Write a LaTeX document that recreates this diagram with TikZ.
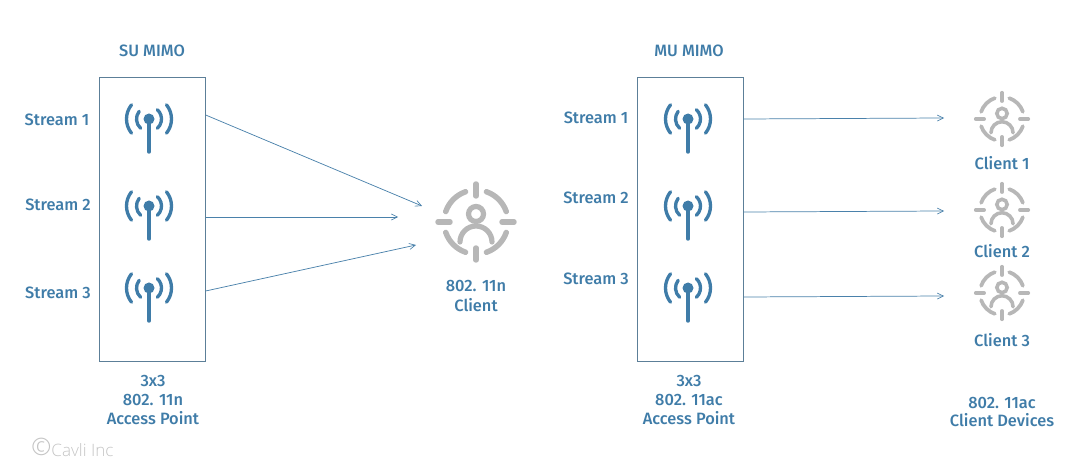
\documentclass[tikz,border=0pt]{standalone}
\usepackage{fontspec}
\setmainfont{Fira Sans Medium}
\newfontfamily\lightfont{Open Sans Light}
\usetikzlibrary{arrows.meta}
\definecolor{ink}{HTML}{3F7CA8}
\definecolor{boxline}{HTML}{5C7F98}
\definecolor{arrowline}{HTML}{4A81AB}
\definecolor{icongray}{HTML}{B7B7B7}
\definecolor{mark}{HTML}{C4C4C4}
\tikzset{
  x=0.75pt,y=-0.75pt,
  apbox/.style={draw=boxline,line width=0.6pt,minimum width=80pt,minimum height=213pt,anchor=north west,inner sep=0pt,outer sep=0pt},
  lab/.style={text=ink,font=\fontsize{12.3pt}{14pt}\selectfont,align=center,inner sep=0pt},
  link/.style={draw=arrowline,line width=0.55pt,-{Straight Barb[length=4.5pt,width=4.5pt,line width=0.5pt]}},
  arcstroke/.style={ink,line width=2.5pt,line cap=round},
  pics/antenna/.style={code={
    \draw[ink,line width=2.6pt,line cap=round] (0,0) -- (0,33);
    \fill[ink] (0,0) circle[radius=5.5];
    \draw[arcstroke] (218:12.5) arc[start angle=218,end angle=132,radius=12.5];
    \draw[arcstroke] (-48:12.5) arc[start angle=-48,end angle=48,radius=12.5];
    \draw[arcstroke] (219:22.5) arc[start angle=219,end angle=141,radius=22.5];
    \draw[arcstroke] (-39:22.5) arc[start angle=-39,end angle=39,radius=22.5];
  }},
  pics/clienticon/.style={code={
    \begin{scope}[scale=#1,icongray,line cap=round,line width=#1*4.1pt]
      \foreach \a in {0,90,180,270}{
        \draw (\a:26) -- (\a:38);
      }
      \foreach \a in {0,90,180,270}{
        \draw (\a+19:32) arc[start angle=\a+19,end angle=\a+71,radius=32];
      }
      \draw[line width=#1*3.9pt] (0,-8) circle[radius=7.5];
      \draw[line width=#1*3.9pt] (-16,20) arc[start angle=180,end angle=360,radius=16];
    \end{scope}
  }}
}
\begin{document}
\begin{tikzpicture}
\useasboundingbox (0,0) rectangle (1080,473);
\node[apbox] (su) at (99,77) {};
\node[apbox] (mu) at (637,77) {};
\node[lab] (sutitle) at (152,51) {SU MIMO};
\node[lab] (mutitle) at (689,51) {MU MIMO};
\node[lab] (s1) at (57,120) {Stream 1};
\node[lab] (s2) at (58,205) {Stream 2};
\node[lab] (s3) at (58,293) {Stream 3};
\node[lab] (m1) at (596,118) {Stream 1};
\node[lab] (m2) at (596,198) {Stream 2};
\node[lab] (m3) at (596,279) {Stream 3};
\pic at (149,119) {antenna};
\pic at (149,206) {antenna};
\pic at (149,288) {antenna};
\pic at (688,119) {antenna};
\pic at (688,206) {antenna};
\pic at (688,288) {antenna};
\pic at (476,222) {clienticon=1};
\pic at (1002,119) {clienticon=0.69};
\pic at (1002,210) {clienticon=0.69};
\pic at (1002,293) {clienticon=0.69};
\node[lab] (suclient) at (476,296) {802. 11n\\[0.8pt]Client};
\node[lab] (c1) at (1002,163) {Client 1};
\node[lab] (c2) at (1002,251) {Client 2};
\node[lab] (c3) at (1002,340) {Client 3};
\node[lab] (suap) at (153,400) {3x3\\802. 11n\\Access Point};
\node[lab] (muap) at (689,400) {3x3\\802. 11ac\\Access Point};
\node[lab] (mudev) at (1002,412) {802. 11ac\\Client Devices};
\node[text=mark,font=\lightfont\fontsize{12.8pt}{14pt}\selectfont,inner sep=0pt] (copy) at (72.5,447) {\raisebox{0.8pt}{\fontsize{18pt}{18pt}\selectfont©}Cavli Inc};
\coordinate (a1) at (su.east |- 0,115);
\coordinate (a2) at (su.east |- 0,217);
\coordinate (a3) at (su.east |- 0,291);
\coordinate (b1) at (422,206);
\coordinate (b2) at (398,217);
\coordinate (b3) at (416,245);
\coordinate (d1) at (mu.east |- 0,119);
\coordinate (d2) at (mu.east |- 0,212);
\coordinate (d3) at (mu.east |- 0,297);
\coordinate (e1) at (944,118);
\coordinate (e2) at (944,211);
\coordinate (e3) at (944,296);
\draw[link] (a1) -- (b1);
\draw[link] (a2) -- (b2);
\draw[link] (a3) -- (b3);
\draw[link] (d1) -- (e1);
\draw[link] (d2) -- (e2);
\draw[link] (d3) -- (e3);
\end{tikzpicture}
\end{document}
